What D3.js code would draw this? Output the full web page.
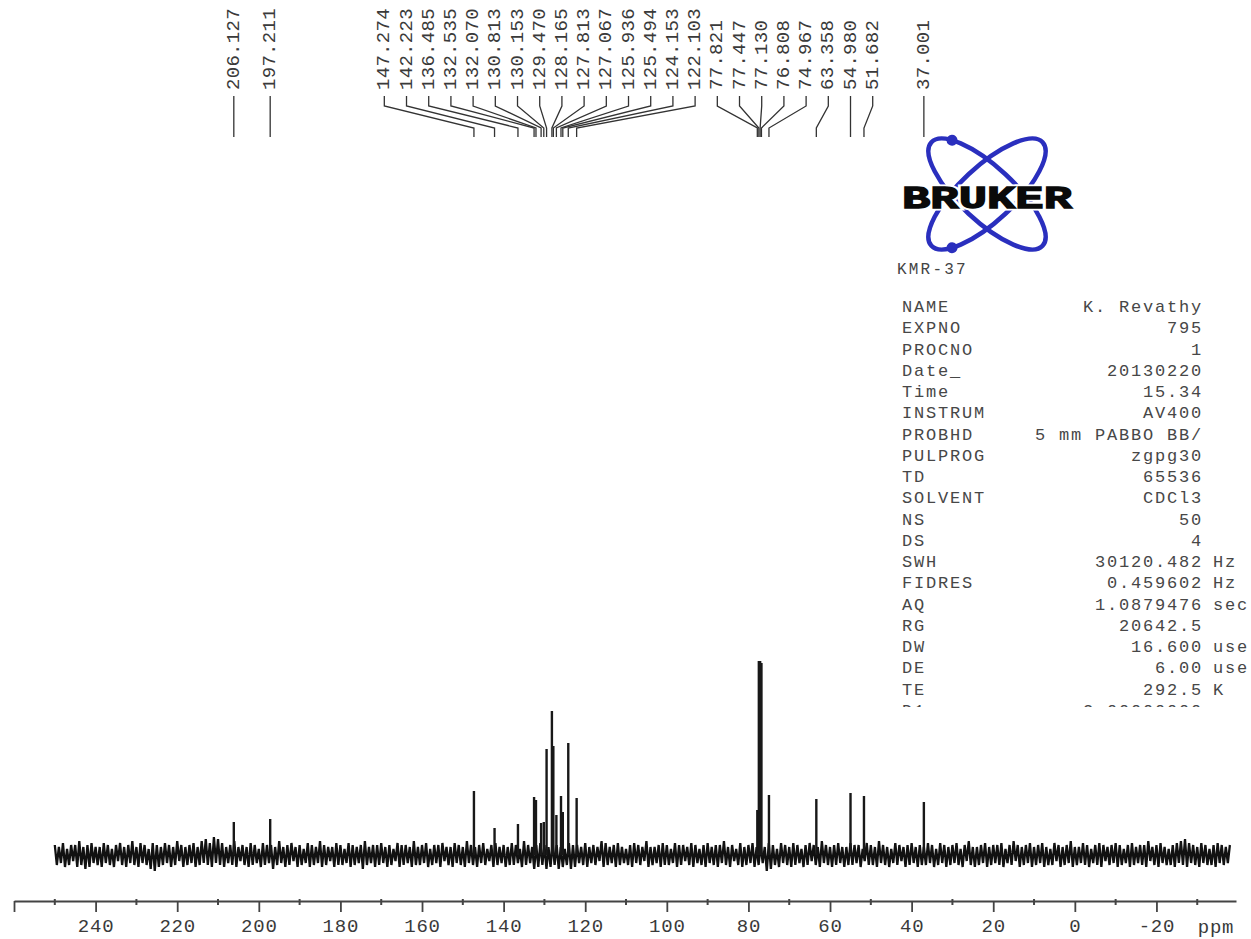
<!DOCTYPE html>
<html><head><meta charset="utf-8">
<script src="https://cdn.jsdelivr.net/npm/d3@7"></script>
<style>
html,body{margin:0;padding:0;background:#fff;}
svg{display:block;background:#fff;}
text{font-family:"Liberation Mono","DejaVu Sans Mono",monospace;}
</style></head><body>
<svg id="c" width="1251" height="939"></svg>
<script>
// ---- data ----
const peakPpm = [206.127,197.211,147.274,142.223,136.485,132.535,132.070,130.813,130.153,129.470,128.165,127.813,127.067,125.936,125.494,124.153,122.103,77.821,77.447,77.130,76.808,74.967,63.358,54.980,51.682,37.001];
const peakHeight = [16.5,18,32,13.5,15.5,29,27.5,16,16.5,53,72,54.5,20,29.5,21.5,56,28.5,22.5,97,97,96,30,28,31,29.5,26.5];

// baseline noise: upward excursions at whole ppm (250 … -38), downward excursions at half ppm (249.5 … -37.5)
const noiseHi = [
  5,4,6,3,5,5,7,4,5,6,4,4,6,5,3,5,6,4,5,7,
  4,6,5,3,6,5,4,6,5,4,7,5,4,5,6,4,7,8,6,9,
  8,6,4,5,7,4,5,4,6,5,3,6,5,5,4,7,4,5,6,4,
  5,3,6,5,4,7,5,4,4,6,5,3,6,5,4,5,7,4,5,5,
  6,4,5,3,6,5,5,4,7,4,5,6,3,5,5,6,4,4,6,5,
  4,7,5,4,5,6,3,5,6,4,5,4,6,5,3,7,5,4,5,6,
  5,4,6,5,4,3,6,5,5,4,6,4,5,4,7,6,4,5,6,4,
  3,5,6,5,4,7,4,4,5,6,5,3,6,5,5,4,6,5,3,5,
  6,4,5,5,7,4,5,3,6,4,5,6,4,5,4,6,5,3,6,5,
  4,6,5,3,5,6,5,4,7,5,4,5,6,4,4,6,5,5,3,6,
  5,4,7,5,4,3,6,5,4,5,6,4,5,4,6,5,3,6,5,4,
  5,6,3,5,7,4,4,5,6,4,5,5,6,3,5,7,5,4,5,6,
  4,5,6,4,3,6,5,4,5,7,4,4,6,5,3,5,6,5,4,5,
  6,5,3,5,6,4,5,5,7,4,5,6,4,3,5,6,7,8,6,5,
  4,6,5,3,5,6,5,4,5];
const noiseLo = [
  -5,-4,-6,-5,-3,-6,-5,-7,-6,-4,-5,-6,-4,-5,-6,-3,-5,-6,-4,-5,
  -6,-4,-5,-7,-8,-6,-5,-4,-6,-5,-3,-6,-5,-4,-6,-5,-4,-5,-6,-4,
  -5,-6,-4,-5,-6,-3,-5,-6,-5,-4,-6,-5,-4,-7,-5,-4,-6,-5,-3,-6,
  -5,-4,-6,-5,-4,-6,-5,-3,-6,-5,-5,-4,-6,-5,-4,-7,-5,-4,-6,-5,
  -4,-6,-5,-3,-6,-5,-4,-6,-5,-5,-4,-6,-5,-4,-6,-3,-5,-6,-4,-5,
  -6,-4,-5,-6,-4,-5,-3,-6,-5,-4,-6,-5,-5,-4,-6,-5,-4,-7,-6,-5,
  -7,-6,-5,-7,-6,-5,-7,-6,-4,-5,-6,-4,-5,-3,-6,-5,-4,-6,-5,-4,
  -5,-6,-4,-5,-3,-6,-5,-4,-6,-5,-5,-4,-6,-5,-3,-5,-6,-4,-5,-6,
  -4,-5,-6,-4,-5,-6,-3,-5,-6,-5,-4,-6,-5,-4,-8,-7,-5,-6,-4,-5,
  -6,-5,-4,-6,-5,-3,-5,-6,-4,-5,-6,-5,-4,-6,-5,-5,-4,-6,-3,-5,
  -5,-6,-4,-5,-6,-4,-5,-3,-6,-5,-4,-6,-5,-5,-4,-6,-5,-4,-6,-5,
  -4,-5,-6,-3,-5,-6,-5,-4,-6,-5,-4,-5,-6,-4,-5,-3,-6,-5,-4,-6,
  -5,-4,-6,-5,-5,-3,-6,-5,-4,-6,-5,-4,-5,-6,-4,-5,-6,-3,-5,-4,
  -6,-5,-4,-6,-5,-4,-5,-6,-3,-5,-6,-4,-5,-5,-6,-4,-5,-6,-4,-5,
  -6,-4,-5,-5,-6,-4,-5,-4];
const noiseHiPpm = d3.range(250, -38.5, -1);
const noiseLoPpm = d3.range(249.5, -38, -1);

const majorTicks = [260,240,220,200,180,160,140,120,100,80,60,40,20,0,-20];
const minorTicks = [250,230,210,190,170,150,130,110,90,70,50,30,10,-10,-30];
const axisUnit = "ppm";

const paramNames  = ["NAME","EXPNO","PROCNO","Date_","Time","INSTRUM","PROBHD","PULPROG","TD","SOLVENT","NS","DS","SWH","FIDRES","AQ","RG","DW","DE","TE","D1"];
const paramValues = ["K. Revathy","795","1","20130220","15.34","AV400","5 mm PABBO BB/","zgpg30","65536","CDCl3","50","4","30120.482","0.459602","1.0879476","20642.5","16.600","6.00","292.5","2.00000000"];
const paramUnits  = ["","","","","","","","","","","","","Hz","Hz","sec","","use","use","K","sec"];
const logoText = "BRUKER";
const sampleId = "KMR-37";

// ---- scales ----
const svg = d3.select("#c");
const x = d3.scaleLinear().domain([260, -39.5]).range([14, 1236]);
const y = d3.scaleLinear().domain([0, 100]).range([855, 655]);

// ---- spectrum baseline trace ----
const trace = [];
noiseHiPpm.forEach((p, i) => {
  trace.push([p, noiseHi[i]]);
  if (i < noiseLoPpm.length) trace.push([noiseLoPpm[i], noiseLo[i]]);
});
svg.append("path")
  .attr("d", d3.line().x(d => x(d[0])).y(d => y(d[1]))(trace))
  .attr("fill", "none").attr("stroke", "#111").attr("stroke-width", 2.3);

// ---- peaks ----
svg.append("g").selectAll("line").data(peakPpm).join("line")
  .attr("x1", d => x(d)).attr("x2", d => x(d))
  .attr("y1", y(0)).attr("y2", (d, i) => y(peakHeight[i]))
  .attr("stroke", "#181818").attr("stroke-width", 2.4);

// ---- peak labels (Bruker style spread) ----
const sp = 22.2;
const items = peakPpm.map((p, i) => ({ppm: p, px: x(p), i})).sort((a, b) => a.px - b.px);
let clusters = [];
items.forEach(it => {
  clusters.push({items: [it], sum: it.px});
  while (clusters.length > 1) {
    const c = clusters[clusters.length - 1], pr = clusters[clusters.length - 2];
    const cl = c.sum / c.items.length - (c.items.length - 1) * sp / 2;
    const pRight = pr.sum / pr.items.length + (pr.items.length - 1) * sp / 2;
    if (cl < pRight + sp) {
      clusters.pop();
      pr.items = pr.items.concat(c.items); pr.sum += c.sum;
    } else break;
  }
});
clusters.forEach(c => {
  const left = c.sum / c.items.length - (c.items.length - 1) * sp / 2;
  c.items.forEach((it, k) => { it.lx = left + k * sp; });
});
const textBottom = 90, y0 = 96, y1 = 106, y2 = 128, y3 = 137;
const lab = svg.append("g");
lab.selectAll("path").data(items).join("path")
  .attr("d", d => `M${d.lx},${y0}V${y1}L${d.px},${y2}V${y3}`)
  .attr("fill", "none").attr("stroke", "#333").attr("stroke-width", 1.3);
lab.selectAll("text").data(items).join("text")
  .attr("transform", d => `translate(${d.lx},${textBottom}) rotate(-90)`)
  .attr("dominant-baseline", "central")
  .attr("font-size", 19).attr("fill", "#3a3a3a").attr("letter-spacing", 0.3)
  .text(d => d.ppm.toFixed(3));

// ---- axis ----
const axisY = 901;
const ax = svg.append("g").attr("transform", `translate(0,${axisY})`)
  .call(d3.axisBottom(x).tickValues(majorTicks).tickSize(11).tickSizeOuter(0).tickPadding(7)
    .tickFormat(d => d > 250 ? "" : String(d)));
ax.select(".domain").attr("stroke", "#444").attr("stroke-width", 1.8);
ax.selectAll(".tick line").attr("stroke", "#444").attr("stroke-width", 1.8);
ax.selectAll(".tick text").attr("font-family", "Liberation Mono, monospace").attr("font-size", 19)
  .attr("fill", "#3a3a3a").attr("letter-spacing", 0.8);
svg.append("g").selectAll("line").data(minorTicks).join("line")
  .attr("x1", d => x(d)).attr("x2", d => x(d)).attr("y1", axisY - 2).attr("y2", axisY + 4)
  .attr("stroke", "#444").attr("stroke-width", 2);
svg.append("text").attr("x", x.range()[1] - 20).attr("y", axisY + 32)
  .attr("text-anchor", "middle").attr("font-size", 19).attr("fill", "#3a3a3a").attr("letter-spacing", 0.8)
  .text(axisUnit);

// ---- Bruker logo ----
const logo = svg.append("g").attr("transform", "translate(987,194)");
[43, -43].forEach((a, k) => {
  const g = logo.append("g").attr("transform", `rotate(${a})`);
  g.append("ellipse").attr("rx", 76).attr("ry", 27).attr("fill", "none")
    .attr("stroke", "#2a2fbe").attr("stroke-width", 4.5);
  const t = (k === 0 ? 215 : 145) * Math.PI / 180;
  g.append("circle").attr("cx", 76 * Math.cos(t)).attr("cy", 27 * Math.sin(t)).attr("r", 5.5).attr("fill", "#2a2fbe");
});
const lt = logo.append("text").attr("x", 0).attr("y", 14).attr("text-anchor", "middle")
  .attr("font-family", "Liberation Sans, Arial, sans-serif").attr("font-weight", 900)
  .attr("font-size", 31).attr("textLength", 170).attr("lengthAdjust", "spacingAndGlyphs");
lt.clone().attr("fill", "#fff").attr("stroke", "#fff").attr("stroke-width", 5).text(logoText);
lt.attr("fill", "#0a0a0a").attr("stroke", "#0a0a0a").attr("stroke-width", 1.3).text(logoText).raise();
svg.append("text").attr("x", 897).attr("y", 274).attr("font-size", 16).attr("letter-spacing", 2.2)
  .attr("fill", "#444").text(sampleId);

// ---- parameter table ----
svg.append("clipPath").attr("id", "tclip").append("rect").attr("x", 880).attr("y", 290).attr("width", 371).attr("height", 417);
const tbl = svg.append("g").attr("clip-path", "url(#tclip)")
  .attr("font-size", 17).attr("fill", "#474747").attr("letter-spacing", 1.8);
const rowY = i => 312 + i * 21.25;
tbl.selectAll("text.n").data(paramNames).join("text").attr("class", "n")
  .attr("x", 902).attr("y", (d, i) => rowY(i)).text(d => d);
tbl.selectAll("text.v").data(paramValues).join("text").attr("class", "v")
  .attr("x", 1203).attr("y", (d, i) => rowY(i)).attr("text-anchor", "end").text(d => d);
tbl.selectAll("text.u").data(paramUnits).join("text").attr("class", "u")
  .attr("x", 1213).attr("y", (d, i) => rowY(i)).text(d => d);
</script>
</body></html>
